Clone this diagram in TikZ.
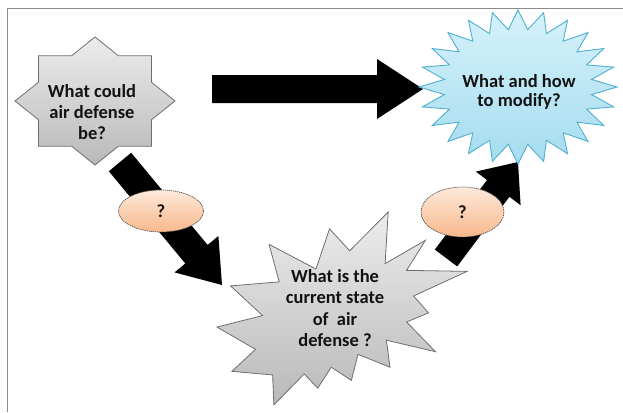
\documentclass[tikz,border=0pt]{standalone}
\usepackage{fontspec}
\setmainfont{Carlito}
\usetikzlibrary{shapes.geometric,calc}

\definecolor{frameGray}{HTML}{8C8C8C}
\definecolor{starEdge}{HTML}{6E6E6E}
\definecolor{grayTop}{HTML}{ECECEC}
\definecolor{grayBottom}{HTML}{B9B9B9}
\definecolor{blueEdge}{HTML}{4FAFCF}
\definecolor{blueTop}{HTML}{D6F2FB}
\definecolor{blueBottom}{HTML}{A4DCEF}
\definecolor{peachTop}{HTML}{FDE9DA}
\definecolor{peachBottom}{HTML}{F8B88C}
\definecolor{inkDark}{HTML}{121212}

% block arrow: tail, tip, shaft half-width, head half-width, head length
\newcommand\drawblockarrow[5]{%
  \coordinate (hb) at ($(#2)!#5!(#1)$);
  \fill[arrowbody] ($(#1)!#3!90:(#2)$) -- ($(hb)!#3!90:(#2)$) -- ($(hb)!#4!90:(#2)$)
    -- (#2) -- ($(hb)!#4!-90:(#2)$) -- ($(hb)!#3!-90:(#2)$) -- ($(#1)!#3!-90:(#2)$) -- cycle;
}

\begin{document}
\begin{tikzpicture}[x=1pt,y=-1pt,
  frameline/.style={draw=frameGray, line width=1pt},
  arrowbody/.style={fill=black},
  graystar/.style={draw=starEdge, line width=0.8pt, top color=grayTop, bottom color=grayBottom},
  bluestar/.style={draw=blueEdge, line width=0.9pt, top color=blueTop, bottom color=blueBottom},
  caption/.style={font=\bfseries\fontsize{18.5}{#1}\selectfont, align=center, text=inkDark, inner sep=0pt},
  qbubble/.style={ellipse, draw=black!70, line width=0.7pt, dash pattern=on 1.2pt off 0.8pt,
    top color=peachTop, bottom color=peachBottom, inner sep=0pt,
    font=\bfseries\fontsize{18.5}{21}\selectfont, text=inkDark}]
\useasboundingbox (0,0) rectangle (623,412);

% frame edges
\draw[frameline] (7,412) -- (7,8.5) -- (623,8.5);

% anchor points of the block arrows
\coordinate (tailA) at (212,89);
\coordinate (tipA) at (423,89);
\coordinate (tailB) at (120,162);
\coordinate (tipB) at (222,285);
\coordinate (tailC) at (446,258);
\coordinate (tipC) at (518,162);

\drawblockarrow{tailA}{tipA}{14pt}{30pt}{46pt}
\drawblockarrow{tailB}{tipB}{14.5pt}{28.5pt}{40pt}
\drawblockarrow{tailC}{tipC}{14pt}{28pt}{33pt}

% eight-point star
\draw[graystar] plot[samples at={0,22.5,...,337.5}, variable=\a]
  ({95+80*(0.8825+0.1175*cos(8*\a))*cos(\a)}, {101-64*(0.8825+0.1175*cos(8*\a))*sin(\a)}) -- cycle;

% twenty-four-point star
\draw[bluestar] plot[samples at={0,7.5,...,352.5}, variable=\a]
  ({518+99*(0.875+0.125*cos(24*\a))*cos(\a)}, {87-77*(0.875+0.125*cos(24*\a))*sin(\a)}) -- cycle;

% explosion burst
\begin{scope}[shift={(217,212)}, x=1.15741pt, y=-0.89352pt]
\draw[graystar] (114.62,43.42) -- (147.90,0) -- (145.25,57.77) -- (180.07,31.72) -- (163.80,65.32)
  -- (216,66.45) -- (169.85,94.02) -- (182.70,112.90) -- (163.80,123.10) -- (188.77,156.32)
  -- (146.40,143.50) -- (149.42,173.70) -- (121.80,159.35) -- (116.12,188.42) -- (98.72,173.70)
  -- (87.00,197.12) -- (75.27,181.25) -- (49.17,216) -- (48.05,182.40) -- (12.85,178.25)
  -- (33.30,153.70) -- (0,128.77) -- (39.35,115.92) -- (11.72,82.70) -- (53.72,78.17)
  -- (45.02,36.25) -- (85.50,63.82) -- (97.22,18.87) -- cycle;
\end{scope}

% question bubbles on the arrows
\node[qbubble, minimum width=85pt, minimum height=42pt] (qa) at (161,211) {?};
\node[qbubble, minimum width=83pt, minimum height=50pt] (qb) at (462.5,212) {?};

% captions
\node[caption=21pt] (could) at (92,112) {What could\\air defense\\be?};
\node[caption=18.5pt] (modify) at (519,92) {What and how\\to modify?};
\node[caption=21.5pt] (current) at (335,308) {What is the\\current state\\of\ \ air\\defense ?};
\end{tikzpicture}
\end{document}
